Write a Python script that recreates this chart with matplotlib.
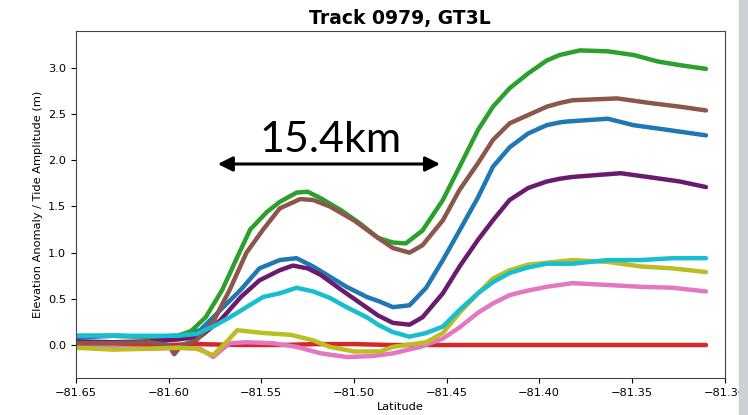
import matplotlib.pyplot as plt
from matplotlib.patches import Rectangle

# --- data (latitude, elevation anomaly in m) ---
blue_lat = [-81.65, -81.63, -81.61, -81.595, -81.583, -81.572, -81.561, -81.551, -81.540, -81.531,
            -81.522, -81.513, -81.504, -81.493, -81.486, -81.479, -81.470, -81.461, -81.452, -81.443,
            -81.433, -81.425, -81.416, -81.406, -81.396, -81.389, -81.385, -81.363, -81.349, -81.331, -81.31]
blue_val = [0.08, 0.10, 0.09, 0.10, 0.16, 0.38, 0.60, 0.83, 0.92, 0.94,
            0.85, 0.74, 0.63, 0.52, 0.47, 0.41, 0.43, 0.62, 0.92, 1.24,
            1.60, 1.93, 2.14, 2.29, 2.38, 2.41, 2.42, 2.45, 2.38, 2.33, 2.27]

green_lat = [-81.65, -81.63, -81.61, -81.595, -81.588, -81.580, -81.571, -81.563, -81.556, -81.547,
             -81.540, -81.531, -81.525, -81.518, -81.507, -81.497, -81.487, -81.479, -81.472, -81.463,
             -81.452, -81.443, -81.433, -81.425, -81.416, -81.406, -81.396, -81.389, -81.378, -81.363,
             -81.349, -81.336, -81.324, -81.31]
green_val = [0.10, 0.10, 0.09, 0.10, 0.15, 0.30, 0.60, 0.95, 1.25, 1.44,
             1.55, 1.65, 1.66, 1.59, 1.46, 1.32, 1.16, 1.11, 1.10, 1.24,
             1.57, 1.93, 2.33, 2.58, 2.78, 2.94, 3.08, 3.14, 3.19, 3.18,
             3.14, 3.07, 3.03, 2.99]

red_lat = [-81.65, -81.60, -81.585, -81.56, -81.54, -81.52, -81.50, -81.48, -81.46, -81.44,
           -81.40, -81.36, -81.33, -81.31]
red_val = [0.00, 0.00, 0.01, 0.00, 0.00, 0.01, 0.01, 0.00, 0.00, 0.00,
           0.00, 0.00, 0.00, 0.00]

purple_lat = [-81.65, -81.63, -81.61, -81.595, -81.583, -81.572, -81.561, -81.551, -81.540, -81.533,
              -81.525, -81.518, -81.507, -81.497, -81.487, -81.479, -81.470, -81.463, -81.452, -81.443,
              -81.433, -81.425, -81.416, -81.406, -81.396, -81.389, -81.382, -81.356, -81.338, -81.324, -81.31]
purple_val = [0.04, 0.03, 0.04, 0.06, 0.09, 0.27, 0.52, 0.70, 0.81, 0.86,
              0.83, 0.76, 0.60, 0.46, 0.32, 0.24, 0.22, 0.30, 0.56, 0.85,
              1.14, 1.35, 1.57, 1.70, 1.77, 1.80, 1.82, 1.86, 1.81, 1.77, 1.71]

brown_lat = [-81.65, -81.63, -81.61, -81.600, -81.597, -81.593, -81.585, -81.576, -81.567, -81.558,
             -81.549, -81.540, -81.529, -81.522, -81.513, -81.500, -81.487, -81.479, -81.470, -81.463,
             -81.452, -81.443, -81.433, -81.425, -81.416, -81.406, -81.396, -81.389, -81.382, -81.358,
             -81.340, -81.324, -81.31]
brown_val = [0.02, 0.02, 0.03, 0.00, -0.10, 0.00, 0.05, 0.25, 0.60, 1.00,
             1.25, 1.48, 1.58, 1.57, 1.50, 1.35, 1.16, 1.05, 1.00, 1.08,
             1.35, 1.68, 1.97, 2.22, 2.40, 2.49, 2.58, 2.62, 2.65, 2.67,
             2.62, 2.58, 2.54]

pink_lat = [-81.65, -81.63, -81.61, -81.595, -81.583, -81.576, -81.567, -81.558, -81.544, -81.531,
            -81.518, -81.504, -81.490, -81.479, -81.464, -81.452, -81.443, -81.433, -81.425, -81.416,
            -81.406, -81.396, -81.382, -81.363, -81.345, -81.328, -81.31]
pink_val = [-0.03, -0.03, -0.04, -0.03, -0.04, -0.13, 0.02, 0.03, 0.02, -0.02,
            -0.09, -0.13, -0.12, -0.09, -0.02, 0.07, 0.19, 0.35, 0.45, 0.54,
            0.59, 0.63, 0.67, 0.65, 0.63, 0.62, 0.58]

olive_lat = [-81.65, -81.63, -81.61, -81.595, -81.585, -81.576, -81.568, -81.563, -81.549, -81.534,
             -81.522, -81.513, -81.500, -81.486, -81.479, -81.461, -81.452, -81.443, -81.433, -81.425,
             -81.416, -81.406, -81.382, -81.363, -81.345, -81.328, -81.31]
olive_val = [-0.03, -0.05, -0.04, -0.03, -0.04, -0.11, 0.05, 0.16, 0.13, 0.11,
             0.05, -0.02, -0.07, -0.07, -0.02, 0.03, 0.13, 0.35, 0.56, 0.72,
             0.81, 0.87, 0.92, 0.90, 0.85, 0.83, 0.79]

cyan_lat = [-81.65, -81.63, -81.61, -81.595, -81.585, -81.576, -81.567, -81.558, -81.549, -81.540,
            -81.531, -81.522, -81.513, -81.504, -81.493, -81.487, -81.479, -81.470, -81.461, -81.452,
            -81.443, -81.433, -81.425, -81.416, -81.406, -81.396, -81.382, -81.363, -81.345, -81.328, -81.31]
cyan_val = [0.10, 0.10, 0.10, 0.10, 0.12, 0.20, 0.30, 0.41, 0.52, 0.56,
            0.62, 0.58, 0.51, 0.41, 0.30, 0.22, 0.14, 0.09, 0.13, 0.20,
            0.38, 0.56, 0.68, 0.78, 0.84, 0.88, 0.88, 0.92, 0.92, 0.94, 0.94]

series = [
    (blue_lat, blue_val, 'tab:blue'),
    (green_lat, green_val, 'tab:green'),
    (red_lat, red_val, 'tab:red'),
    (purple_lat, purple_val, '#6a1b6e'),
    (brown_lat, brown_val, 'tab:brown'),
    (pink_lat, pink_val, 'tab:pink'),
    (olive_lat, olive_val, 'tab:olive'),
    (cyan_lat, cyan_val, 'tab:cyan'),
]

fig = plt.figure(figsize=(7.48, 4.15), dpi=100)
ax = fig.add_axes([0.1016, 0.0892, 0.8670, 0.8361])

for lat, val, col in series:
    ax.plot(lat, val, color=col, lw=3.2, solid_capstyle='round', solid_joinstyle='round')

ax.set_xlim(-81.65, -81.30)
ax.set_ylim(-0.357, 3.40)
ax.set_xticks([-81.65, -81.60, -81.55, -81.50, -81.45, -81.40, -81.35, -81.30])
ax.set_yticks([0.0, 0.5, 1.0, 1.5, 2.0, 2.5, 3.0])
ax.tick_params(labelsize=8.2, length=3.5, width=0.8)
ax.set_xlabel('Latitude', fontsize=8.2, labelpad=3)
ax.set_ylabel('Elevation Anomaly / Tide Amplitude (m)', fontsize=8.2, labelpad=4)
ax.set_title('Track 0979, GT3L', fontsize=13.5, fontweight='bold', pad=5)
for s in ax.spines.values():
    s.set_color('#444444')

# distance annotation
ax.annotate('', xy=(-81.5735, 1.96), xytext=(-81.4535, 1.96),
            arrowprops=dict(arrowstyle='<|-|>', color='black', lw=2.2, mutation_scale=22,
                            shrinkA=0, shrinkB=0))
ax.text(-81.5125, 2.09, '15.4km', fontsize=31, family='Lato', ha='center', va='baseline')

# grey strip at the right edge of the screenshot
fig.add_artist(Rectangle((739 / 748, 0), 9 / 748, 1, transform=fig.transFigure,
                         color='#cdd0d5', zorder=10))

fig.savefig('out.png', dpi=100)
